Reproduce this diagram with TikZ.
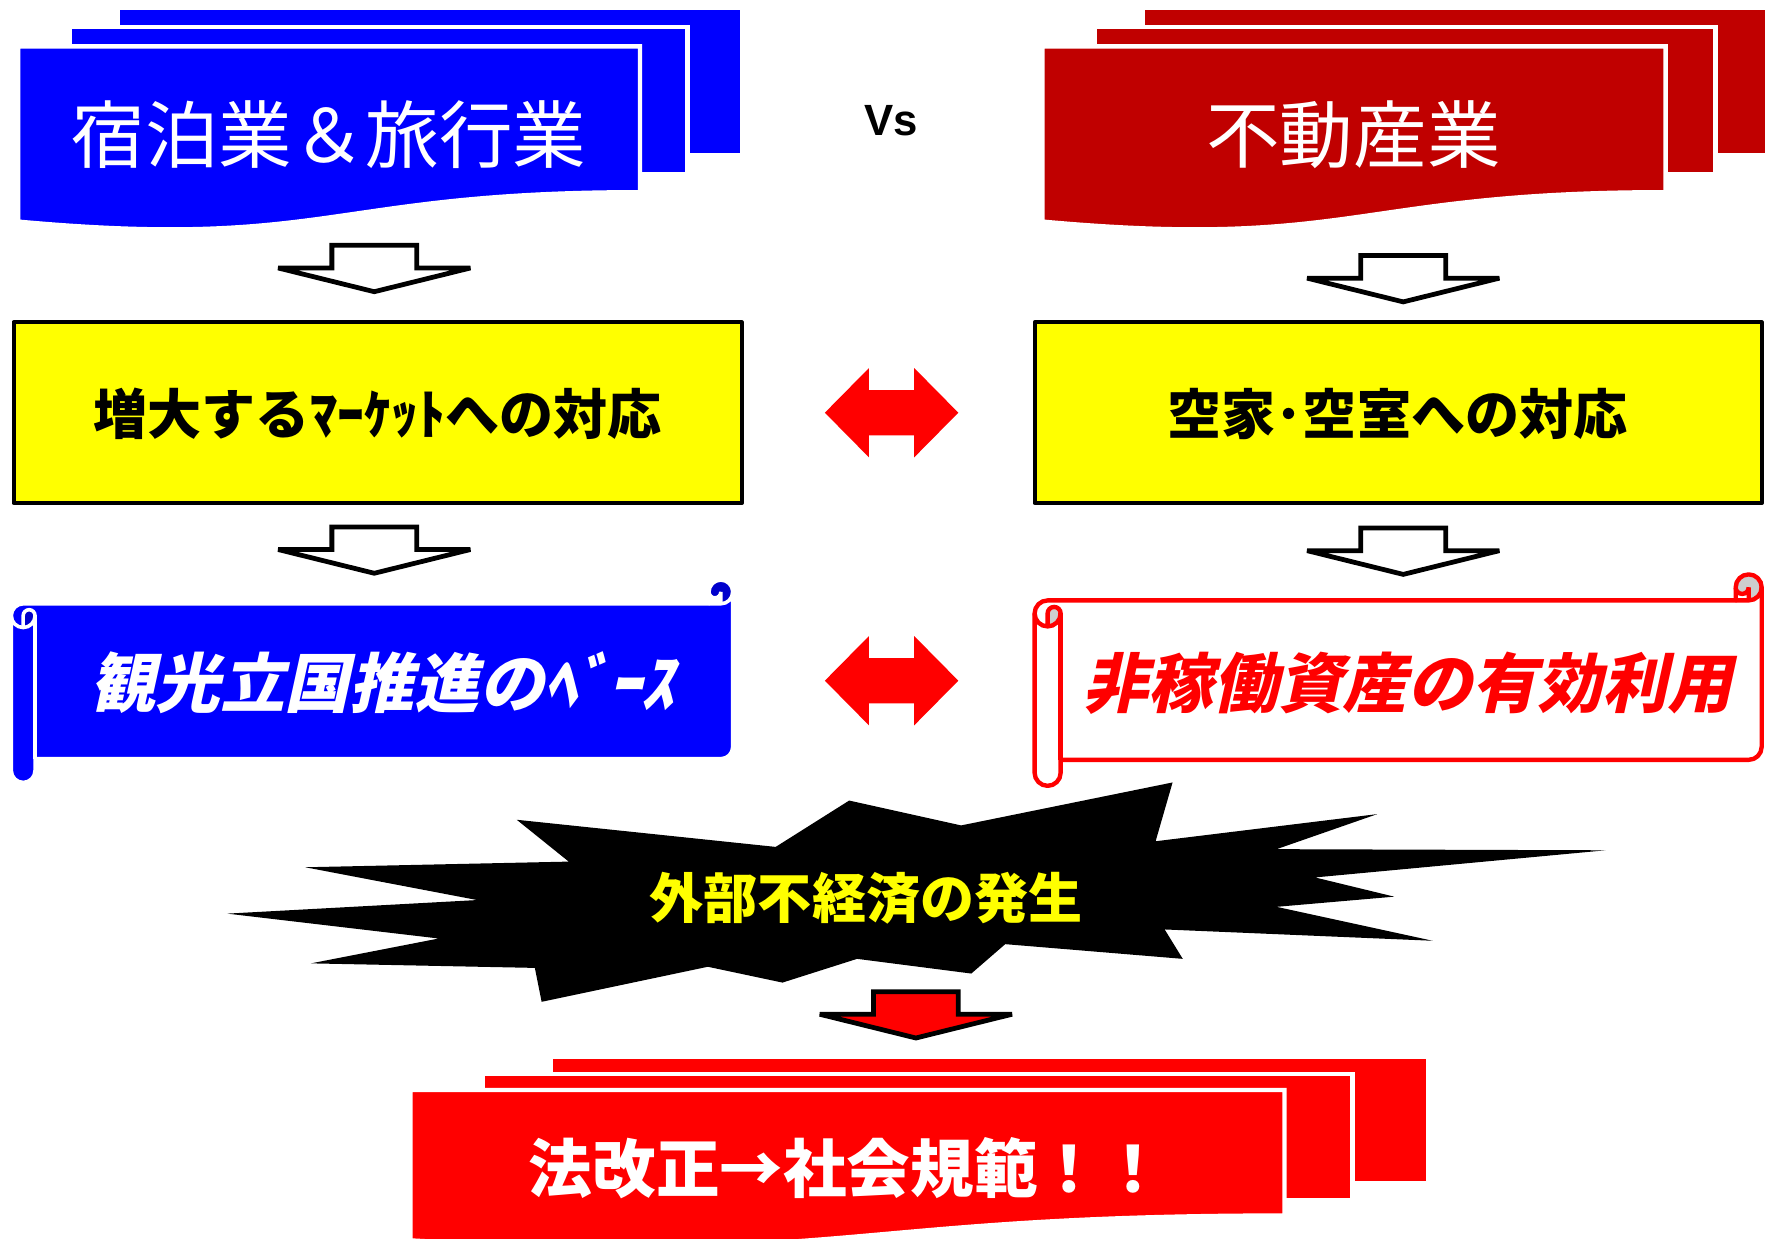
\documentclass[tikz,border=0pt]{standalone}
\usepackage{fontspec}
\newfontfamily\jp{Noto Sans CJK JP}
\newfontfamily\jpsl{Noto Sans CJK JP}[FakeSlant=0.22]
\newfontfamily\arialb{Liberation Sans}
\definecolor{pblue}{HTML}{0000FF}
\definecolor{dred}{HTML}{C00000}
\definecolor{pred}{HTML}{FF0000}
\definecolor{pyel}{HTML}{FFFF00}
\definecolor{bdark}{HTML}{0000CC}
\definecolor{gdark}{HTML}{CDCDCD}
\tikzset{
  sheet/.style={draw=white, line width=1.1pt},
  blockarrow/.style={draw=black, line width=1.2pt, line join=miter, miter limit=2.5},
  dbl/.style={fill=pred},
  ybox/.style={fill=pyel, draw=black, line width=1pt, line join=round},
  txt/.style={inner sep=0pt, outer sep=0pt}
}
% front sheet with wavy bottom: x y w hr hl hc color
\newcommand\wavedoc[7]{%
  \filldraw[sheet, fill=#7] (#1,#2) -- ({#1+#3},#2) -- ({#1+#3},{#2+#4})
    .. controls ({#1+0.5*#3},{#2+#4}) and ({#1+0.5*#3},{#2+#6}) .. (#1,{#2+#5}) -- cycle;}
% block down arrow: cx top fill
\newcommand\blockdown[3]{%
  \filldraw[blockarrow, fill=#3] ({#1-37.5},#2) -- ({#1+37.5},#2) -- ({#1+37.5},{#2+20})
    -- ({#1+85},{#2+20}) -- (#1,{#2+41}) -- ({#1-85},{#2+20}) -- ({#1-37.5},{#2+20}) -- cycle;}
% double horizontal arrow: cx cy
\newcommand\dblarrow[2]{%
  \fill[dbl] ({#1-59},#2) -- ({#1-20},{#2-39.5}) -- ({#1-20},{#2-20}) -- ({#1+20},{#2-20})
    -- ({#1+20},{#2-39.5}) -- ({#1+59},#2) -- ({#1+20},{#2+39.5}) -- ({#1+20},{#2+20})
    -- ({#1-20},{#2+20}) -- ({#1-20},{#2+39.5}) -- cycle;}
% horizontal scroll: l t r b ch fillstyle linestyle darkstyle
\newcommand\hscroll[8]{%
\begin{scope}[shift={(#1,#2)}]
\pgfmathsetmacro\sW{#3-#1}%
\pgfmathsetmacro\sH{#4-#2}%
\pgfmathsetmacro\sC{#5}%
\pgfmathsetmacro\sCh{#5/2}%
\pgfmathsetmacro\sCq{#5/4}%
\pgfmathsetmacro\sYiii{1.5*#5}%
\pgfmathsetmacro\sYiv{2*#5}%
\pgfmathsetmacro\sYv{\sH-1.5*#5}%
\pgfmathsetmacro\sYvi{\sH-#5}%
\pgfmathsetmacro\sYvii{\sH-#5/2}%
\pgfmathsetmacro\sXiii{\sW-#5}%
\pgfmathsetmacro\sXiv{\sW-#5/2}%
\fill[#6] (\sW,\sCh) arc[start angle=0,end angle=90,radius=\sCh] -- (\sCh,\sC)
  arc[start angle=270,end angle=180,radius=\sCh] -- (0,\sYvii)
  arc[start angle=180,end angle=0,radius=\sCh] -- (\sC,\sYvi) -- (\sXiv,\sYvi)
  arc[start angle=90,end angle=0,radius=\sCh] -- cycle;
\fill[#8] (\sCh,\sYiv) arc[start angle=90,end angle=0,radius=\sCh]
  arc[start angle=0,end angle=-180,radius=\sCq] -- cycle;
\fill[#8] (\sXiv,\sC) arc[start angle=90,end angle=-180,radius=\sCh]
  arc[start angle=180,end angle=0,radius=\sCq] -- cycle;
\draw[#7, line join=round] (0,\sYiii) arc[start angle=180,end angle=270,radius=\sCh]
  -- (\sXiii,\sC) -- (\sXiii,\sCh) arc[start angle=180,end angle=360,radius=\sCh]
  -- (\sW,\sYv) arc[start angle=0,end angle=90,radius=\sCh] -- (\sC,\sYvi) -- (\sC,\sYvii)
  arc[start angle=0,end angle=180,radius=\sCh] -- cycle;
\draw[#7] (\sXiii,\sC) -- (\sXiv,\sC) arc[start angle=90,end angle=0,radius=\sCh];
\draw[#7] (\sXiv,\sC) -- (\sXiv,\sCh) arc[start angle=0,end angle=180,radius=\sCq];
\draw[#7] (\sCh,\sYiv) -- (\sCh,\sYiii) arc[start angle=180,end angle=360,radius=\sCq]
  arc[start angle=0,end angle=180,radius=\sCh];
\draw[#7] (\sC,\sYiii) -- (\sC,\sYvi);
\end{scope}}

\begin{document}
\begin{tikzpicture}[x=0.01cm, y=-0.01cm]
\useasboundingbox (0,0) rectangle (1568,1095);
\begin{scope}
\clip (0,0) rectangle (1568,1095);

% ---- top left blue stack
\filldraw[sheet, fill=pblue] (104,7) rectangle (656,137);
\filldraw[sheet, fill=pblue] (62,24) rectangle (608,154);
\wavedoc{16}{41}{550}{129}{155}{180}{pblue}
\node[txt, text=white] (tHotel) at (291,119) {\jp\fontsize{18.5}{20}\selectfont 宿泊業＆旅行業};

% ---- top right red stack
\filldraw[sheet, fill=dred] (1011,7) rectangle (1563,137);
\filldraw[sheet, fill=dred] (968,24) rectangle (1517,154);
\wavedoc{922}{41}{551}{129}{155}{180}{dred}
\node[txt, text=white] (tEstate) at (1197,119) {\jp\fontsize{18.5}{20}\selectfont 不動産業};

\node[txt] (vs) at (788,107) {\arialb\bfseries\fontsize{11}{13}\selectfont Vs};

% ---- down arrows row 1
\blockdown{331}{217}{white}
\blockdown{1241}{226}{white}

% ---- yellow boxes
\draw[ybox] (12,285) rectangle (656,445);
\draw[ybox] (915,285) rectangle (1558,445);
\node[txt] (yLeft) at (334,366) {\jp\bfseries\fontsize{13.6}{15}\selectfont 増大するﾏｰｹｯﾄへの対応};
\node[txt] (yRight) at (1236,366) {\jp\bfseries\fontsize{13.6}{15}\selectfont 空家･空室への対応};
\dblarrow{788.5}{365}

% ---- down arrows row 2
\blockdown{331}{466}{white}
\blockdown{1241}{467}{white}

% ---- scrolls
\hscroll{10}{513}{648}{692}{21}{pblue}{white, line width=0.9pt}{bdark}
\node[txt, text=white] (sLeft) at (338,604) {\jpsl\bfseries\fontsize{16.3}{18}\selectfont 観光立国推進のﾍﾞｰｽ};
\hscroll{915}{508}{1558}{695}{23}{white}{pred, line width=1.1pt}{gdark}
\node[txt, text=pred] (sRight) at (1245,604) {\jpsl\bfseries\fontsize{16.3}{18}\selectfont 非稼働資産の有効利用};
\dblarrow{788.5}{602}

% ---- explosion
\fill[black] (201,808) -- (422,796) -- (270,767) -- (503,762) -- (457,725) -- (686,749)
  -- (751,708) -- (850,730) -- (1037,692) -- (1022,744) -- (1218,720) -- (1129,751)
  -- (1420,752) -- (1163,776) -- (1233,793) -- (1129,802) -- (1267,832) -- (1030,822)
  -- (1046,848) -- (889,835) -- (859,861) -- (758,848) -- (692,869) -- (626,855)
  -- (479,886) -- (473,856) -- (275,852) -- (388,830) -- cycle;
\node[txt, text=pyel] (ext) at (766,794) {\jp\bfseries\fontsize{13.6}{15}\selectfont 外部不経済の発生};

% ---- red down arrow
\blockdown{810}{877}{pred}

% ---- bottom red stack
\filldraw[sheet, fill=pred] (487,935) rectangle (1263,1046);
\filldraw[sheet, fill=pred] (427,950) rectangle (1196,1061);
\wavedoc{363}{964}{773}{111}{133}{155}{pred}
\node[txt, text=white] (law) at (749,1033) {\jp\bfseries\fontsize{16}{18}\selectfont 法改正→社会規範！！};
\end{scope}
\end{tikzpicture}
\end{document}
